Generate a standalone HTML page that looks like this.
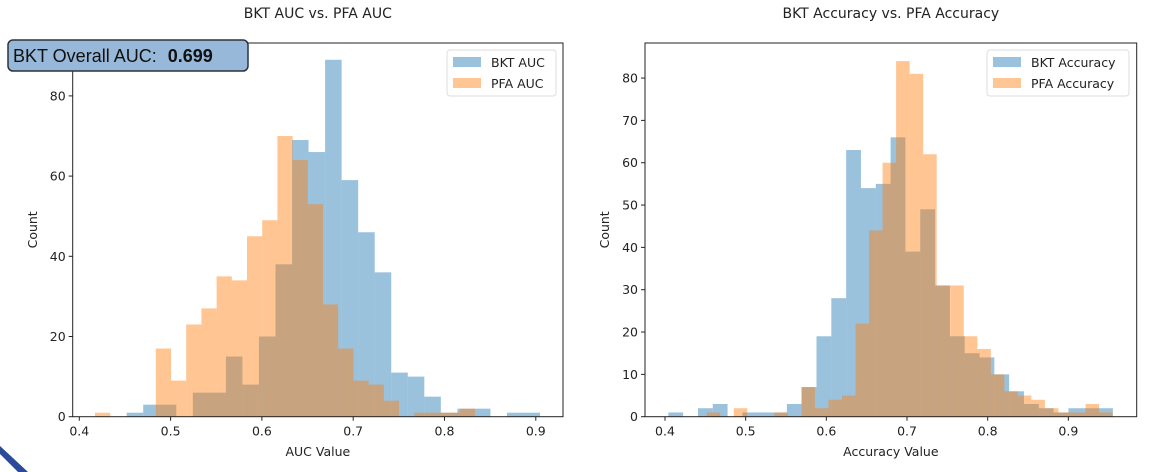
<!DOCTYPE html>
<html><head><meta charset="utf-8"><style>
html,body{margin:0;padding:0;background:#fff;}
svg{display:block;font-family:"DejaVu Sans","Liberation Sans",sans-serif;}
</style></head><body>
<svg id="c" width="1166" height="472" viewBox="0 0 1166 472" xmlns="http://www.w3.org/2000/svg">
<polygon points="0,446 0,454 18,472 28,472" fill="#2a4a9a"/>
</svg>
<script>
// Left chart data
const aucBktStart = 0.4519, aucBktWidth = 0.01811;
const aucBkt = [1,3,3,0,6,6,15,8,20,38,69,66,89,59,46,36,11,10,5,1,2,2,0,1,1];
const aucPfaStart = 0.4172, aucPfaWidth = 0.01665;
const aucPfa = [1,0,0,0,17,9,23,27,35,34,45,49,70,64,53,28,17,9,8,4,0,1,1,1,2];
const aucXTicks = [0.4,0.5,0.6,0.7,0.8,0.9];
const aucYTicks = [0,20,40,60,80];
// Right chart data
const accBktStart = 0.4041, accBktWidth = 0.01837;
const accBkt = [1,0,2,3,0,1,1,1,3,7,19,28,63,54,55,66,39,49,31,19,15,14,10,6,3,2,1,2,2,2];
const accPfaStart = 0.4517, accPfaWidth = 0.01677;
const accPfa = [1,0,2,0,0,1,0,7,2,4,5,22,44,60,84,81,62,31,31,19,16,10,6,5,4,2,1,1,3,1];
const accXTicks = [0.4,0.5,0.6,0.7,0.8,0.9];
const accYTicks = [0,10,20,30,40,50,60,70,80];

const svg = document.getElementById('c');
const NS = 'http://www.w3.org/2000/svg';
function mk(tag, attrs, parent){const e=document.createElementNS(NS,tag);for(const k in attrs)e.setAttribute(k,attrs[k]);(parent||svg).appendChild(e);return e;}

function chart(o){
  const g = mk('g',{});
  
  
  const sx = v => o.x0 + (v - 0.4) * o.pxPerTenth * 10;
  const sy = v => o.yb - v * o.pxPerCount;
  const series = [[o.bkt,o.bs,o.bw,'#1f77b4','bkt'],[o.pfa,o.ps,o.pw,'#ff7f0e','pfa']];
  series.forEach(([vals,st,w,col,key])=>{
    vals.forEach((v,i)=>{
      if(v<=0) return;
      const x1=sx(st+i*w), x2=sx(st+(i+1)*w);
      const r = mk('rect',{x:x1,y:sy(v),width:x2-x1,height:sy(0)-sy(v),fill:col,'fill-opacity':0.45},g);
      
      
    });
  });
  const fr = mk('rect',{x:o.L,y:o.T,width:o.R-o.L,height:o.yb-o.T,fill:'none',stroke:'#222','stroke-width':1},g);
  
  
  o.xt.forEach(t=>{
    const x=sx(t);
    mk('line',{x1:x,x2:x,y1:o.yb,y2:o.yb+4,stroke:'#222'},g);
    const tx = mk('text',{x:x,y:o.yb+19,'text-anchor':'middle','font-size':12.5,fill:'#222'},g);
    tx.textContent=t.toFixed(1);
    
    
  });
  o.yt.forEach(t=>{
    const y=sy(t);
    mk('line',{x1:o.L-4,x2:o.L,y1:y,y2:y,stroke:'#222'},g);
    const tx = mk('text',{x:o.L-7,y:y+4.5,'text-anchor':'end','font-size':12.5,fill:'#222'},g);
    tx.textContent=t;
    
    
  });
  const ti = mk('text',{x:(o.L+o.R)/2,y:18,'text-anchor':'middle','font-size':14,fill:'#222'},g);
  ti.textContent=o.title;
  
  
  const xl = mk('text',{x:(o.L+o.R)/2,y:456,'text-anchor':'middle','font-size':12.5,fill:'#222'},g);
  xl.textContent=o.xlabel;
  
  
  const yl = mk('text',{x:o.ylx,y:(o.T+o.yb)/2,'text-anchor':'middle','font-size':12.5,fill:'#222',transform:'rotate(-90 '+o.ylx+' '+((o.T+o.yb)/2)+')'},g);
  yl.textContent='Count';
  
  
  // legend
  const lg = mk('g',{},g);
  
  
  mk('rect',{x:o.lx,y:o.T+7,width:o.lw,height:46,rx:3,fill:'#fff',stroke:'#ddd'},lg);
  [[o.l1,'#1f77b4'],[o.l2,'#ff7f0e']].forEach(([lab,col],i)=>{
    mk('rect',{x:o.lx+6,y:o.T+14+i*21,width:28,height:10,fill:col,'fill-opacity':0.45},lg);
    const t=mk('text',{x:o.lx+44,y:o.T+24+i*21,'font-size':12.5,fill:'#222'},lg);
    t.textContent=lab;
    
    
  });
}

chart({name:'auc-histogram',L:72.7,R:563,T:43,yb:416.7,x0:79.3,pxPerTenth:91.3,pxPerCount:4.01,
  bkt:aucBkt,bs:aucBktStart,bw:aucBktWidth,pfa:aucPfa,ps:aucPfaStart,pw:aucPfaWidth,
  xt:aucXTicks,yt:aucYTicks,title:'BKT AUC vs. PFA AUC',xlabel:'AUC Value',ylx:37,
  lx:447,lw:109,l1:'BKT AUC',l2:'PFA AUC'});
chart({name:'accuracy-histogram',L:645,R:1136.7,T:43,yb:416.7,x0:665,pxPerTenth:80.67,pxPerCount:4.233,
  bkt:accBkt,bs:accBktStart,bw:accBktWidth,pfa:accPfa,ps:accPfaStart,pw:accPfaWidth,
  xt:accXTicks,yt:accYTicks,title:'BKT Accuracy vs. PFA Accuracy',xlabel:'Accuracy Value',ylx:609,
  lx:987,lw:142,l1:'BKT Accuracy',l2:'PFA Accuracy'});

// annotation box
const ab = mk('g',{});


mk('rect',{x:8,y:40,width:240,height:31,rx:5,fill:'#97b8d8',stroke:'#2b3440','stroke-width':1.5},ab);
const at = mk('text',{x:13,y:62,'font-size':18,fill:'#111','font-family':'Liberation Sans, sans-serif'},ab);
at.innerHTML='BKT Overall AUC:  <tspan font-weight="bold" dx="6">0.699</tspan>';
</script>
</body></html>
